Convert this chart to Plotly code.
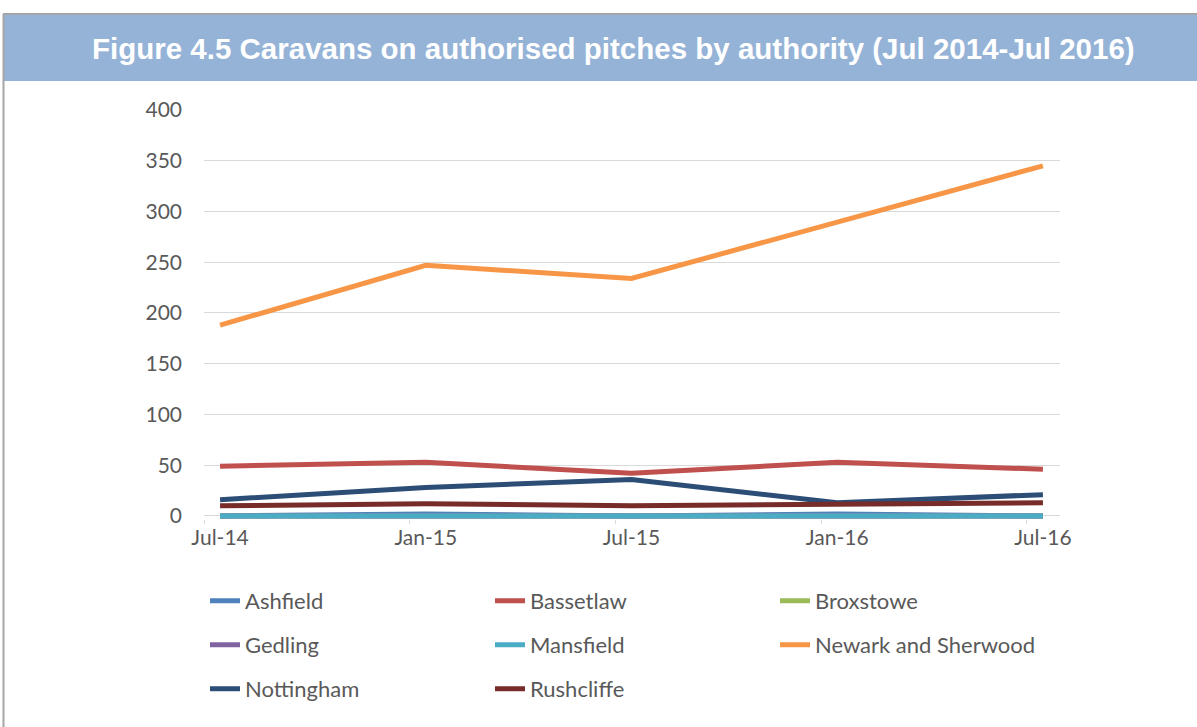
import plotly.graph_objects as go

categories = ["Jul-14", "Jan-15", "Jul-15", "Jan-16", "Jul-16"]
ashfield = [0, 2, 0, 2, 0]
bassetlaw = [49, 53, 42, 53, 46]
broxstowe = [0, 0, 0, 0, 0]
gedling = [0, 0, 0, 0, 0]
mansfield = [0, 0, 0, 0, 0]
newark = [188, 247, 234, 289, 345]
nottingham = [16, 28, 36, 13, 21]
rushcliffe = [10, 12, 10, 11, 13]

y_ticks = [0, 50, 100, 150, 200, 250, 300, 350, 400]

series = [
    ("Ashfield", ashfield, "#4F81BD", "legend"),
    ("Bassetlaw", bassetlaw, "#C0504D", "legend"),
    ("Broxstowe", broxstowe, "#9BBB59", "legend"),
    ("Gedling", gedling, "#8064A2", "legend2"),
    ("Mansfield", mansfield, "#4BACC6", "legend2"),
    ("Newark and Sherwood", newark, "#F79646", "legend2"),
    ("Nottingham", nottingham, "#2C4D75", "legend3"),
    ("Rushcliffe", rushcliffe, "#772C2A", "legend3"),
]

W, H = 1197, 727
Y0 = -3  # small room below zero so the zero-valued lines are not clipped
L, R, T = 204, 1060, 110
B0 = 516  # pixel row of value 0
pxu = (B0 - T) / 400.0
B = B0 - Y0 * pxu

def px(x):
    return (x - L) / (R - L)

def py(y):
    return (B - y) / (B - T)

fig = go.Figure()
for name, vals, color, lg in series:
    fig.add_trace(go.Scatter(
        x=list(range(len(categories))), y=vals, name=name, mode="lines",
        line=dict(color=color, width=5), legend=lg,
    ))

FONT = "Lato, Carlito, Calibri, sans-serif"
legend_common = dict(
    orientation="h", xanchor="left", yanchor="middle",
    font=dict(family=FONT, size=22, color="#595959"),
    entrywidth=240, entrywidthmode="pixels", bgcolor="rgba(0,0,0,0)",
    traceorder="normal",
)

xrange = [-0.078, 4.083]
n = len(categories)

fig.update_layout(
    width=W, height=H,
    margin=dict(l=L, r=W - R, t=T, b=H - B, pad=0),
    paper_bgcolor="white", plot_bgcolor="white",
    showlegend=True,
    legend=dict(x=px(205), y=py(601), **legend_common),
    legend2=dict(x=px(205), y=py(645), **legend_common),
    legend3=dict(x=px(205), y=py(689), **legend_common),
    xaxis=dict(
        tickmode="array", tickvals=list(range(n)), ticktext=categories,
        range=xrange, showgrid=False, showline=False,
        ticks="", ticklabelstandoff=4,
        tickfont=dict(family=FONT, size=21, color="#595959"), zeroline=False,
    ),
    xaxis2=dict(
        overlaying="x", side="bottom", anchor="y",
        tickmode="array", tickvals=[i - 0.078 for i in range(n)], ticktext=[""] * n,
        range=xrange, showgrid=False, showline=False, showticklabels=False,
        ticks="outside", ticklen=4, tickcolor="#D9D9D9", zeroline=False,
    ),
    yaxis=dict(
        tickmode="array", tickvals=y_ticks, range=[Y0, 400],
        showgrid=True, gridcolor="#D9D9D9", gridwidth=1,
        zeroline=True, zerolinecolor="#D9D9D9", zerolinewidth=1,
        showline=False, ticks="", ticklabelstandoff=21,
        tickfont=dict(family=FONT, size=21, color="#595959"),
    ),
    shapes=[
        dict(type="rect", xref="paper", yref="paper", x0=px(3), x1=px(1200),
             y0=py(81), y1=py(15), fillcolor="#95B3D7", line=dict(width=0), layer="below"),
        dict(type="line", xref="paper", yref="paper", x0=px(3), x1=px(1200),
             y0=py(14), y1=py(14), line=dict(color="#A6A6A6", width=2)),
        dict(type="line", xref="paper", yref="paper", x0=px(3.5), x1=px(3.5),
             y0=py(14), y1=py(730), line=dict(color="#A6A6A6", width=2)),
    ],
    annotations=[
        dict(text="<b>Figure 4.5 Caravans on authorised pitches by authority (Jul 2014-Jul 2016)</b>",
             xref="paper", yref="paper", x=px(613), y=py(48), xanchor="center", yanchor="middle",
             showarrow=False, font=dict(family="Liberation Sans, Arial, sans-serif", size=29.5, color="white")),
    ],
)
# an invisible trace so the tick-mark axis is drawn
fig.add_trace(go.Scatter(x=[None], y=[None], xaxis="x2", showlegend=False, hoverinfo="skip"))

fig.write_html("out.html")
